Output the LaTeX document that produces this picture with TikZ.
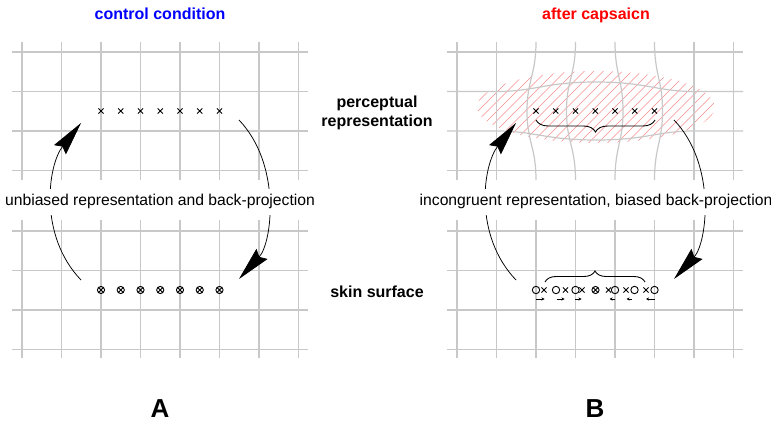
\documentclass[tikz,border=0pt]{standalone}
\usepackage{fontspec}
\setmainfont{Liberation Sans}
\usetikzlibrary{arrows.meta,decorations.pathreplacing}
\definecolor{gridgray}{RGB}{200,200,200}
\definecolor{titleblue}{RGB}{0,0,255}
\definecolor{titlered}{RGB}{255,0,0}
\definecolor{hatchred}{RGB}{245,140,140}
\tikzset{
  xmark/.pic={\draw[line width=0.9pt] (-2.6,-2.6)--(2.6,2.6) (-2.6,2.6)--(2.6,-2.6);},
  omark/.pic={\draw[line width=0.9pt] (0,0) circle[radius=3.7];},
  oxmark/.pic={\draw[line width=0.9pt] (0,0) circle[radius=3.6] (-2.5,-2.5)--(2.5,2.5) (-2.5,2.5)--(2.5,-2.5);}
}
\begin{document}
\begin{tikzpicture}[x=1pt,y=-1pt,
  gridline/.style={draw=gridgray,line width=1.2pt},
  hatchline/.style={draw=hatchred,line width=0.5pt},
  connector/.style={line width=0.75pt,-{Stealth[length=34pt,width=15pt,inset=4pt]}},
  smallarrow/.style={line width=0.6pt,-{Stealth[length=3pt,width=3pt]}},
  bracestyle/.style={line width=0.9pt,decorate},
  titletext/.style={font=\fontsize{16}{20}\selectfont\bfseries,anchor=base,inner sep=0pt},
  sidelabel/.style={font=\fontsize{16}{19.5}\selectfont\bfseries,align=center,inner sep=0pt},
  midtext/.style={font=\fontsize{15.7}{19}\selectfont,fill=white,anchor=base,text height=12pt,text depth=4pt,inner xsep=2pt,inner ysep=5pt},
  paneltext/.style={font=\fontsize{26}{30}\selectfont\bfseries,anchor=base,inner sep=0pt},
]
\useasboundingbox (0,0) rectangle (771,422);

% ---------- Panel A grids ----------
\foreach \i in {0,...,7} {
  \draw[gridline] ({22+39.5*\i},42) -- ({22+39.5*\i},180);
  \draw[gridline] ({22+39.5*\i},220) -- ({22+39.5*\i},358);
}
\foreach \y in {52,91.5,131,170.5} \draw[gridline] (12,\y) -- (308,\y);
\foreach \y in {231,270.5,310,349.5} \draw[gridline] (12,\y) -- (308,\y);

% ---------- Panel B hatch ----------
\begin{scope}
  \clip (596,107) ellipse [x radius=119, y radius=36];
  \foreach \k in {-18,...,18} \draw[hatchline] ({596+9.5*\k-40},147) -- ({596+9.5*\k+40},67);
\end{scope}

% ---------- Panel B grids ----------
\foreach \i in {0,...,7} \draw[gridline] ({457+39.5*\i},220) -- ({457+39.5*\i},358);
\foreach \y in {231,270.5,310,349.5} \draw[gridline] (447,\y) -- (743,\y);
\foreach \x in {457,496.5,694,733.5} \draw[gridline] (\x,42) -- (\x,180);
\foreach \x/\d in {536/-9,575.5/-9,615/8,654.5/8}
  \draw[gridline] (\x,42) .. controls (\x,75) and ({\x+\d},80) .. ({\x+\d},111)
                          .. controls ({\x+\d},142) and (\x,147) .. (\x,180);
\foreach \y in {52,170.5} \draw[gridline] (447,\y) -- (743,\y);
\draw[gridline] (447,91.5) -- (497,91.5) .. controls (535,91.5) and (545,82) .. (596,82)
                .. controls (647,82) and (657,91.5) .. (694,91.5) -- (743,91.5);
\draw[gridline] (447,131) -- (497,131) .. controls (535,131) and (545,140) .. (596,140)
                .. controls (647,140) and (657,131) .. (694,131) -- (743,131);

% ---------- markers ----------
\foreach \k in {0,...,6} {
  \pic at ({101+19.75*\k},111) {xmark};
  \pic at ({101+19.75*\k},290) {oxmark};
  \pic at ({536+19.75*\k},111) {xmark};
}
\foreach \x in {536,556,575.5,615,634.5,654.5} \pic at (\x,290) {omark};
\pic at (595.5,290) {oxmark};
\foreach \x in {544,565.5,582,608.5,626,646} \pic at (\x,290) {xmark};
\foreach \a/\b in {536/544.5,556.5/564.5,575/581.5,615/609.5,632/626.5,655/646}
  \draw[smallarrow] (\a,299) -- (\b,299);

% braces
\draw[bracestyle,decoration={brace,mirror,amplitude=12pt}] (536,120) -- (655,120);
\draw[bracestyle,decoration={brace,amplitude=11pt}] (545,282) -- (645,282);

% ---------- connectors ----------
\foreach \ox/\n in {0/A,435/B} {
  \begin{scope}[xshift=\ox pt]
    \coordinate (\n ls) at (81,280);
    \coordinate (\n le) at (81,123);
    \coordinate (\n rs) at (239,120);
    \coordinate (\n re) at (239,279);
    \draw[connector] (\n ls) .. controls (38,235) and (48,165) .. (\n le);
    \draw[connector] (\n rs) .. controls (282,165) and (272,243) .. (\n re);
  \end{scope}
}

% ---------- texts ----------
\node[titletext,text=titleblue] (titleA) at (160,19.5) {control condition};
\node[titletext,text=titlered] (titleB) at (596,19.5) {after capsaicn};
\node[sidelabel] (perc) at (377,113) {perceptual\\representation};
\node[titletext] (skin) at (377,297) {skin surface};
\node[midtext] (midA) at (160,206) {unbiased representation and back-projection};
\node[midtext] (midB) at (596,206) {incongruent representation, biased back-projection};
\node[paneltext] (labA) at (160,417) {A};
\node[paneltext] (labB) at (595,417) {B};
\end{tikzpicture}
\end{document}
